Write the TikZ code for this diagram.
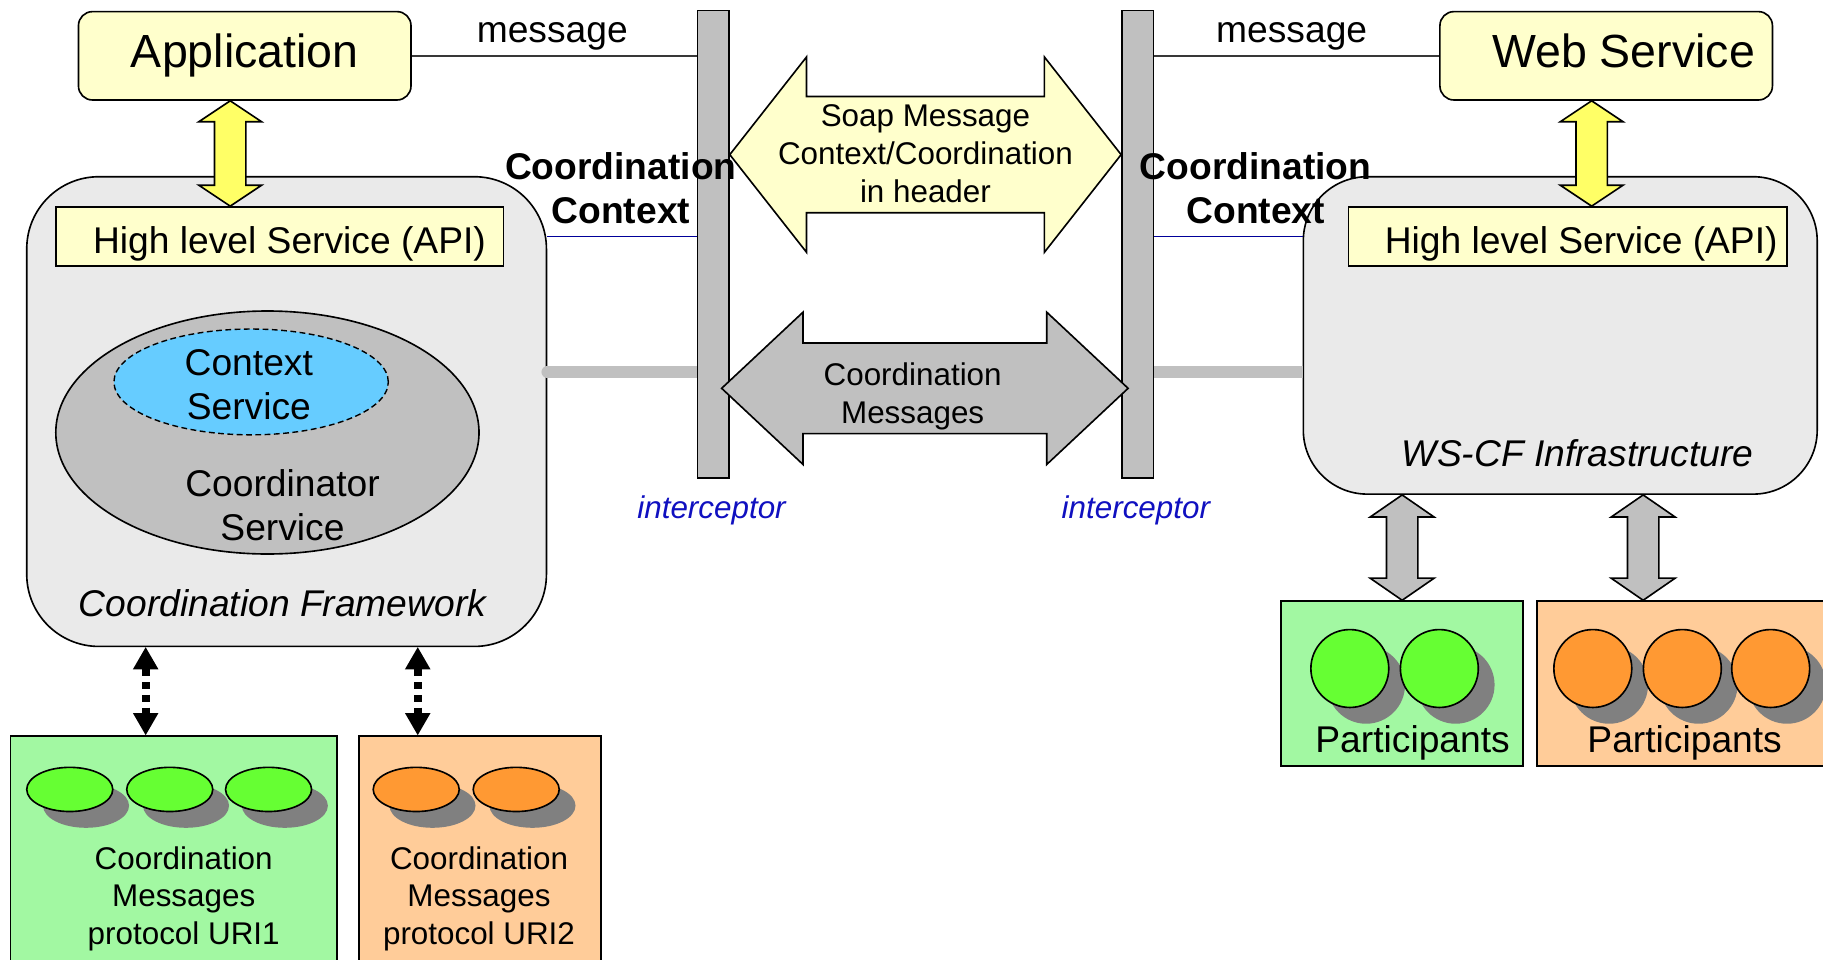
\documentclass[tikz,border=0pt]{standalone}
\usepackage{fontspec}
\setmainfont{Liberation Sans}
\usetikzlibrary{shapes.geometric,arrows.meta,calc}

\definecolor{paleyellow}{HTML}{FFFFCC}
\definecolor{brightyellow}{HTML}{FFFF66}
\definecolor{midgray}{HTML}{C0C0C0}
\definecolor{panelgray}{HTML}{EAEAEA}
\definecolor{skyblue}{HTML}{66CCFF}
\definecolor{palegreen}{HTML}{A2F8A2}
\definecolor{paleorange}{HTML}{FFCC99}
\definecolor{vivgreen}{HTML}{66FF33}
\definecolor{vivorange}{HTML}{FF9933}
\definecolor{shadowgray}{HTML}{808080}
\definecolor{iblue}{HTML}{1010C0}
\definecolor{lineblue}{HTML}{000099}
\definecolor{msgline}{HTML}{383838}

\newcommand\fbig{\fontsize{40}{47}\selectfont}
\newcommand\fmid{\fontsize{32}{38}\selectfont}
\newcommand\fsmall{\fontsize{27}{32.5}\selectfont}

% vertical double block arrow: style, top tip, bottom tip, half shaft, half head, head length
\newcommand\blockV[6]{%
  \path[#1] let \p1=(#2), \p2=(#3) in
    (\x1,\y1) -- (\x1+#5pt,\y1-#6pt) -- (\x1+#4pt,\y1-#6pt) -- (\x1+#4pt,\y2+#6pt)
    -- (\x1+#5pt,\y2+#6pt) -- (\x1,\y2) -- (\x1-#5pt,\y2+#6pt) -- (\x1-#4pt,\y2+#6pt)
    -- (\x1-#4pt,\y1-#6pt) -- (\x1-#5pt,\y1-#6pt) -- cycle;}
% horizontal double block arrow: style, left tip, right tip, half shaft, half head, head length
\newcommand\blockH[6]{%
  \path[#1] let \p1=(#2), \p2=(#3) in
    (\x1,\y1) -- (\x1+#6pt,\y1+#5pt) -- (\x1+#6pt,\y1+#4pt) -- (\x2-#6pt,\y1+#4pt)
    -- (\x2-#6pt,\y1+#5pt) -- (\x2,\y1) -- (\x2-#6pt,\y1-#5pt) -- (\x2-#6pt,\y1-#4pt)
    -- (\x1+#6pt,\y1-#4pt) -- (\x1+#6pt,\y1-#5pt) -- cycle;}

\tikzset{
  outl/.style={draw=black, line width=1.4pt},
  panel/.style={outl, fill=panelgray, rounded corners=#1, inner sep=0pt},
  ybox/.style={outl, fill=paleyellow, inner sep=0pt},
  topbox/.style={ybox, rounded corners=12pt, minimum width=286pt, minimum height=76pt,
    font=\fbig, text height=29pt, text depth=8.4pt},
  apibox/.style={ybox, minimum height=51pt, font=\fmid, text height=36.4pt, text depth=6.7pt},
  ibar/.style={outl, fill=midgray, minimum width=27pt, minimum height=402pt, inner sep=0pt},
  soaparrow/.style={outl, fill=paleyellow, line join=miter},
  yarrow/.style={outl, fill=brightyellow, line join=miter},
  garrow/.style={outl, fill=midgray, line join=miter},
  msg/.style={draw=msgline, line width=1.6pt},
  msgtext/.style={font=\fmid, text height=16.6pt, text depth=6.7pt},
  ctxline/.style={draw=lineblue, line width=1.3pt},
  thickgray/.style={draw=midgray, line width=10pt},
  dotarrow/.style={line width=7pt, dash pattern=on 6pt off 5pt,
    {Triangle[width=22pt 0,length=19pt 0,line width=0pt]}-{Triangle[width=22pt 0,length=19pt 0,line width=0pt]}},
  greenbox/.style={outl, fill=palegreen, inner sep=0pt},
  orangebox/.style={outl, fill=paleorange, inner sep=0pt},
  pshadow/.style={ellipse, fill=shadowgray, inner sep=0pt},
  token/.style={ellipse, outl, inner sep=0pt},
  itl/.style={font=\fsmall\itshape, text=iblue},
}

\begin{document}
\begin{tikzpicture}[x=1pt,y=-1pt]
\useasboundingbox (0,0) rectangle (1568,825);
\clip (0,0) rectangle (1568,825);

% framework panels
\node[panel=62pt, minimum width=447pt, minimum height=404pt] (cf) at (246.5,354) {};
\node[panel=55pt, minimum width=442pt, minimum height=273pt] (ws) at (1342,288.5) {};

% API boxes
\node[apibox, minimum width=385pt] (hlL) at (240.5,203.5) {\hspace*{17pt}High level Service (API)};
\node[apibox, minimum width=377pt] (hlR) at (1348.5,203.5) {\hspace*{23pt}High level Service (API)};

% coordinator and context services
\node[ellipse, outl, fill=midgray, minimum width=364pt, minimum height=209pt, inner sep=0pt] (coord) at (230,372) {};
\node[ellipse, draw=black, line width=1.2pt, dash pattern=on 5pt off 3pt, fill=skyblue, minimum width=236pt, minimum height=91pt, inner sep=0pt] (ctx) at (216,328.5) {};
\node[font=\fmid, align=center] (ctxT) at (214,331) {Context\\Service};
\node[font=\fmid, align=center] (coordT) at (243,434.5) {Coordinator\\Service};
\node[font=\fmid\itshape] (cfT) at (243,519) {Coordination Framework};
\node[font=\fmid\itshape] (wsT) at (1357,390) {WS-CF Infrastructure};

% application and web service
\node[topbox] (app) at (210.5,48) {Application};
\node[topbox] (web) at (1381.5,48) {\hspace*{30pt}Web Service};

% interceptors
\node[ibar] (ibL) at (613.5,210) {};
\node[ibar] (ibR) at (978.5,210) {};

% plain message lines and context lines
\draw[msg] (app.east) -- (ibL.west |- app.east);
\draw[msg] (ibR.east |- web.west) -- (web.west);
\draw[ctxline] (cf.east |- hlL.east) -- (ibL.west |- hlL.east);
\draw[ctxline] (ibR.east |- hlR.west) -- (ws.west |- hlR.west);
\draw[thickgray, line cap=round] (cf.east |- 0,320) -- (ibL.west |- 0,320);
\draw[thickgray] (ibR.east |- 0,320) -- (ws.west |- 0,320);
\node[ibar] at (ibL) {};
\node[ibar] at (ibR) {};

% exchanges between interceptors
\coordinate (soapL) at ($(ibL.east)+(0,-77)$);
\coordinate (soapR) at ($(ibR.west)+(0,-77)$);
\coordinate (cmL) at ($(ibL.east)+(-7,124)$);
\coordinate (cmR) at ($(ibR.west)+(6,124)$);
\blockH{soaparrow}{soapL}{soapR}{50}{84}{66}
\blockH{garrow}{cmL}{cmR}{39}{65.5}{70}
\node[font=\fsmall, align=center] (soapT) at (796,132) {Soap Message\\Context/Coordination\\in header};
\node[font=\fsmall, align=center] (cmT) at (785,341) {Coordination\\Messages};

% API access arrows
\coordinate (apTop) at ($(app.south)+(-12.5,0)$);
\coordinate (apBot) at (apTop |- hlL.north);
\coordinate (wsTop) at ($(web.south)+(-12.5,0)$);
\coordinate (wsBot) at (wsTop |- hlR.north);
\blockV{yarrow}{apTop}{apBot}{13.5}{27}{18}
\blockV{yarrow}{wsTop}{wsBot}{13.5}{27}{18}

% labels
\node[msgtext] (msgL) at (475,32) {message};
\node[msgtext] (msgR) at (1111,32) {message};
\node[font=\fmid\bfseries, align=center] (ccL) at (534,162) {Coordination\\Context};
\node[font=\fmid\bfseries, align=center] (ccR) at (1080,162) {Coordination\\Context};
\node[itl] (icL) at (612,439) {interceptor};
\node[itl] (icR) at (977,439) {interceptor};

% protocol boxes
\node[greenbox, minimum width=281pt, minimum height=217pt] (g1) at (149.5,741.5) {};
\node[orangebox, minimum width=208pt, minimum height=217pt] (o1) at (413,741.5) {};
\foreach \cx/\nm in {60/a,146/b,231/c}{
  \node[pshadow, minimum width=74pt, minimum height=38pt] at (\cx+14,693) {};
  \node[token, fill=vivgreen, minimum width=74pt, minimum height=38pt] (gt\nm) at (\cx,679) {};
}
\foreach \cx/\nm in {358/a,444/b}{
  \node[pshadow, minimum width=74pt, minimum height=38pt] at (\cx+14,693) {};
  \node[token, fill=vivorange, minimum width=74pt, minimum height=38pt] (ot\nm) at (\cx,679) {};
}
\node[font=\fsmall, align=center] (g1T) at (158,773) {Coordination\\Messages\\protocol URI1};
\node[font=\fsmall, align=center] (o1T) at (412,773) {Coordination\\Messages\\protocol URI2};
\coordinate (d1) at ($(g1.north west)+(117,0)$);
\coordinate (d2) at ($(o1.north west)+(51,0)$);
\draw[dotarrow] (d1 |- cf.south) -- (d1);
\draw[dotarrow] (d2 |- cf.south) -- (d2);

% participant boxes
\node[greenbox, minimum width=208pt, minimum height=142pt] (g2) at (1206,588) {};
\node[orangebox, minimum width=278pt, minimum height=142pt] (o2) at (1461,588) {};
\foreach \cx/\nm in {1161/a,1238/b}{
  \node[pshadow, circle, minimum size=67pt] at (\cx+14,589) {};
  \node[token, circle, fill=vivgreen, minimum size=67pt] (gp\nm) at (\cx,575) {};
}
\foreach \cx/\nm in {1370/a,1447/b,1523/c}{
  \node[pshadow, circle, minimum size=67pt] at (\cx+14,589) {};
  \node[token, circle, fill=vivorange, minimum size=67pt] (op\nm) at (\cx,575) {};
}
\node[font=\fmid] (g2T) at (1215,639) {Participants};
\node[font=\fmid] (o2T) at (1449,639) {Participants};
\coordinate (p1) at (g2.north);
\coordinate (p2) at ($(o2.north west)+(92,0)$);
\blockV{garrow}{p1 |- ws.south}{p1}{13.5}{27.5}{19}
\blockV{garrow}{p2 |- ws.south}{p2}{13.5}{27.5}{19}
\end{tikzpicture}
\end{document}
